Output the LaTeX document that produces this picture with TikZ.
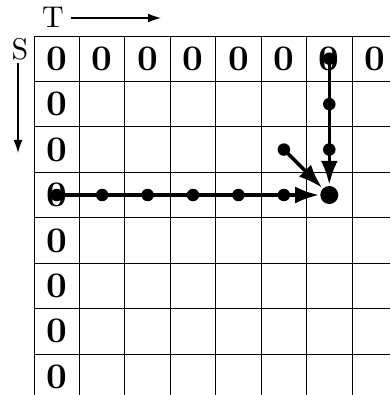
\documentclass[tikz,border=0pt]{standalone}
\usepackage{fontspec}
\setmainfont{lmroman10-regular.otf}[BoldFont=lmroman10-bold.otf]
\usetikzlibrary{arrows.meta}
\newcommand\zerofont{\fontsize{36}{40}\selectfont\bfseries}
\newcommand\lblfont{\fontsize{30}{34}\selectfont}
\begin{document}
\begin{tikzpicture}[x=1pt,y=-1pt,
  gridline/.style={line width=0.9pt,black},
  zero/.style={font=\zerofont,inner sep=0pt},
  lbl/.style={font=\lblfont,inner sep=0pt},
  axisarrow/.style={line width=1.4pt,-{Latex[length=13pt,width=9pt]}},
  patharrow/.style={line width=3.5pt,-{Latex[length=24pt,width=17pt]},shorten >=1pt},
  smalldot/.style={circle,fill=black,inner sep=0pt,minimum size=12.5pt},
  bigdot/.style={circle,fill=black,inner sep=0pt,minimum size=18pt}]
\useasboundingbox (0,0) rectangle (390,395);
\def\cw{45.43}
% grid
\foreach \i in {0,...,7}{
  \draw[gridline] ({34+\i*\cw},36) -- ({34+\i*\cw},395);
  \draw[gridline] (34,{36+\i*\cw}) -- (390,{36+\i*\cw});
}
% zeros top row
\foreach \i in {1,...,8}{
  \node[zero] (t\i) at ({34+(\i-0.5)*\cw},{36+0.5*\cw}) {0};
}
% zeros left column
\foreach \j in {2,...,8}{
  \node[zero] (l\j) at ({34+0.5*\cw},{36+(\j-0.5)*\cw}) {0};
}
% axis labels
\node[lbl] (T) at (53,17) {T};
\coordinate (Ta) at (71,18);
\coordinate (Tb) at (161,18);
\draw[axisarrow] (Ta) -- (Tb);
\node[lbl] (S) at (20,49) {S};
\coordinate (Sa) at (18,63);
\coordinate (Sb) at (18,153);
\draw[axisarrow] (Sa) -- (Sb);
% target
\node[bigdot] (X) at ({34+6.5*\cw},{36+3.5*\cw}) {};
% horizontal path dots
\foreach \i in {1,...,6}{
  \node[smalldot] (h\i) at ({34+(\i-0.5)*\cw},{36+3.5*\cw}) {};
}
% vertical path dots
\foreach \j in {1,...,3}{
  \node[smalldot] (v\j) at ({34+6.5*\cw},{36+(\j-0.5)*\cw}) {};
}
% diagonal start
\node[smalldot] (d) at ({34+5.5*\cw},{36+2.5*\cw}) {};
\draw[patharrow] (h1.center) -- (X);
\draw[patharrow] (v1.center) -- (X);
\draw[patharrow] (d.center) -- (X);
\end{tikzpicture}
\end{document}
